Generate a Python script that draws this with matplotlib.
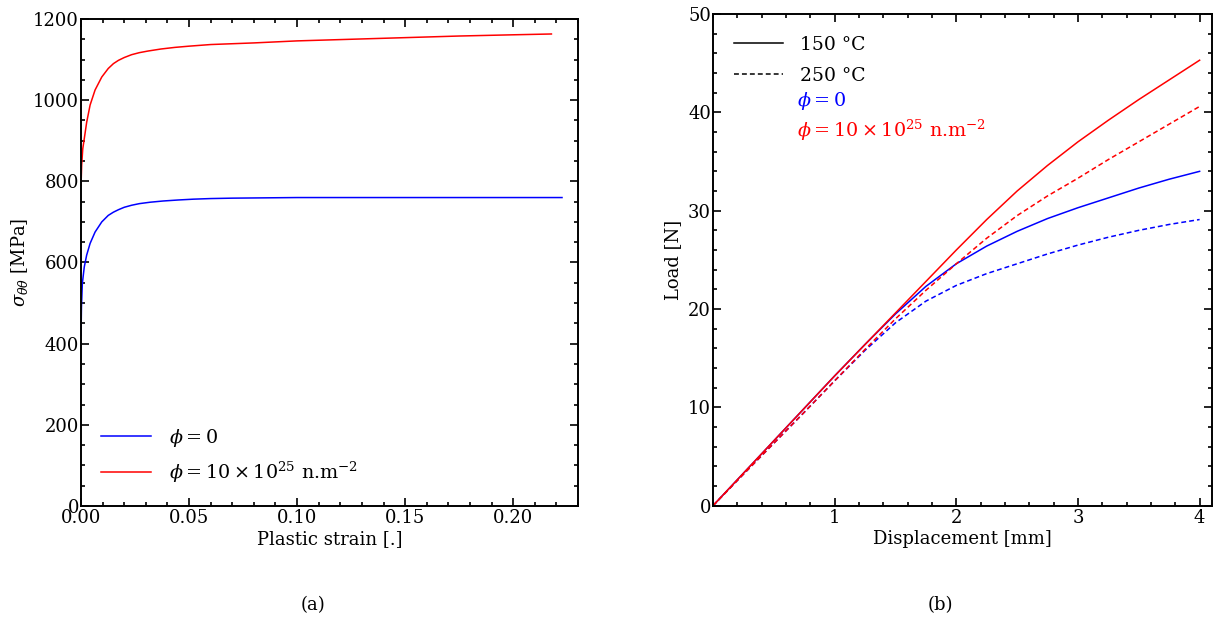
import numpy as np
import matplotlib
matplotlib.use('Agg')
import matplotlib.pyplot as plt
from matplotlib.ticker import MultipleLocator, FixedLocator, FormatStrFormatter

plt.rcParams['font.family'] = 'DejaVu Serif'
plt.rcParams['mathtext.fontset'] = 'dejavuserif'
plt.rcParams['font.size'] = 13

# (a) stress vs plastic strain
strain_0 = [0, 0.0002, 0.0006, 0.0015, 0.0026, 0.0042, 0.0065, 0.0096, 0.0126,
            0.015, 0.0173, 0.02, 0.0234, 0.027, 0.032, 0.038, 0.045, 0.052,
            0.06, 0.07, 0.08, 0.1, 0.15, 0.2, 0.2226]
stress_0 = [420, 490, 548, 589, 618, 647, 675, 700, 716,
            724, 730, 736, 741, 745, 748.5, 751.5, 754, 756,
            757.5, 758.5, 759, 760, 760, 760, 760]

strain_irr = [0, 0.0003, 0.0008, 0.0015, 0.0026, 0.0042, 0.0065, 0.0096, 0.0126,
              0.015, 0.0173, 0.02, 0.0234, 0.027, 0.031, 0.037, 0.0435, 0.05,
              0.06, 0.08, 0.1, 0.125, 0.15, 0.175, 0.2, 0.2177]
stress_irr = [790, 840, 880, 905, 945, 988, 1025, 1057, 1078,
              1090, 1098, 1105, 1112, 1117, 1121, 1126, 1130, 1133,
              1137, 1141, 1146, 1150, 1154, 1158, 1161, 1163]

# (b) load vs displacement
disp = [0, 0.25, 0.5, 0.75, 1.0, 1.25, 1.5, 1.75, 2.0, 2.25, 2.5, 2.75,
        3.0, 3.25, 3.5, 3.75, 4.0]
load_irr_150 = [0, 3.3, 6.6, 9.9, 13.2, 16.4, 19.6, 22.8, 26.0, 29.1, 32.0, 34.6,
                37.0, 39.2, 41.3, 43.3, 45.3]
load_irr_250 = [0, 3.2, 6.35, 9.5, 12.7, 15.9, 19.0, 21.9, 24.6, 27.2, 29.5, 31.5,
                33.3, 35.2, 37.0, 38.8, 40.6]
load_0_150 = [0, 3.3, 6.6, 9.9, 13.2, 16.4, 19.5, 22.3, 24.6, 26.4, 27.9, 29.2,
              30.3, 31.3, 32.3, 33.2, 34.0]
load_0_250 = [0, 3.2, 6.35, 9.5, 12.7, 15.8, 18.6, 20.8, 22.4, 23.6, 24.6, 25.6,
              26.5, 27.3, 28.0, 28.6, 29.1]

lab_0 = r'$\phi = 0$'
lab_irr = r'$\phi = 10 \times 10^{25}$ n.m$^{-2}$'
dash = (0, (3.2, 2))

fig = plt.figure(figsize=(12.13, 6.22), dpi=100)
ax1 = fig.add_axes([0.0668, 0.1865, 0.4097, 0.783])
ax2 = fig.add_axes([0.5878, 0.187, 0.4112, 0.7905])

for ax in (ax1, ax2):
    ax.tick_params(which='both', direction='in', top=True, right=True,
                   width=1.2)
    ax.tick_params(which='major', length=6)
    ax.tick_params(which='minor', length=3)
    for s in ax.spines.values():
        s.set_linewidth(1.4)

ax1.plot(strain_0, stress_0, color='blue', lw=1.1, label=lab_0)
ax1.plot(strain_irr, stress_irr, color='red', lw=1.1, label=lab_irr)
ax1.set_xlim(0, 0.23)
ax1.set_ylim(0, 1200)
ax1.xaxis.set_major_locator(MultipleLocator(0.05))
ax1.xaxis.set_minor_locator(MultipleLocator(0.01))
ax1.yaxis.set_major_locator(MultipleLocator(200))
ax1.yaxis.set_minor_locator(MultipleLocator(50))
ax1.xaxis.set_major_formatter(FormatStrFormatter('%.2f'))
ax1.tick_params(axis='y', pad=1.5)
ax1.tick_params(axis='x', pad=2.5)
ax1.set_xlabel('Plastic strain [.]', labelpad=2)
ax1.set_ylabel(r'$\sigma_{\theta\theta}$ [MPa]', labelpad=2)
ax1.legend(loc='lower left', frameon=False, bbox_to_anchor=(0.014, 0.016),
           borderaxespad=0.3, fontsize=13.8,
           handlelength=2.6, handletextpad=0.95, labelspacing=0.55)

ax2.plot(disp, load_0_150, color='blue', lw=1.1)
ax2.plot(disp, load_0_250, color='blue', lw=1.1, ls=dash)
ax2.plot(disp, load_irr_150, color='red', lw=1.1)
ax2.plot(disp, load_irr_250, color='red', lw=1.1, ls=dash)
ax2.set_xlim(0, 4.1)
ax2.set_ylim(0, 50)
ax2.xaxis.set_major_locator(FixedLocator([1, 2, 3, 4]))
ax2.xaxis.set_minor_locator(MultipleLocator(0.2))
ax2.yaxis.set_major_locator(MultipleLocator(10))
ax2.yaxis.set_minor_locator(MultipleLocator(2))
ax2.tick_params(axis='y', pad=1.5)
ax2.tick_params(axis='x', pad=2.5)
ax2.set_xlabel('Displacement [mm]', labelpad=2)
ax2.set_ylabel('Load [N]', labelpad=4)

h150, = ax2.plot([], [], color='k', lw=1.1, label='150 °C')
h250, = ax2.plot([], [], color='k', lw=1.1, ls=dash, label='250 °C')
ax2.legend(handles=[h150, h250], loc='upper left', frameon=False,
           bbox_to_anchor=(0.008, 0.99), fontsize=13.5,
           handlelength=2.6, handletextpad=0.95, labelspacing=0.7)
ax2.text(0.168, 0.824, lab_0, color='blue', transform=ax2.transAxes,
         va='center', fontsize=13.8)
ax2.text(0.168, 0.764, lab_irr, color='red', transform=ax2.transAxes,
         va='center', fontsize=13.8)

fig.text(0.258, 0.027, '(a)', ha='center', va='center', fontsize=13)
fig.text(0.775, 0.027, '(b)', ha='center', va='center', fontsize=13)

fig.savefig('out.png', dpi=100)
